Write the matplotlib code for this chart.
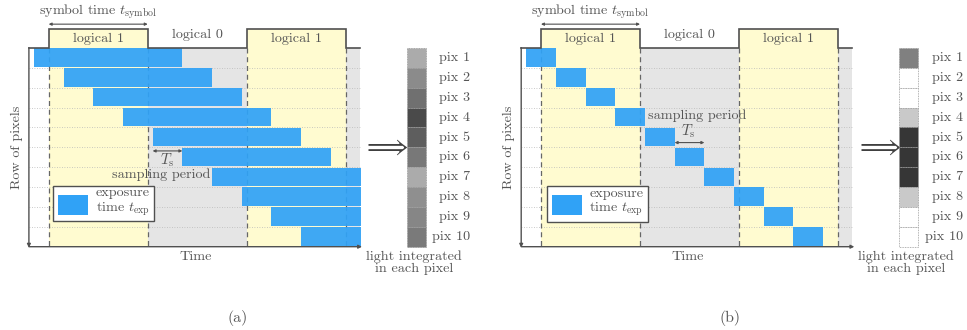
import matplotlib
matplotlib.use("Agg")
import matplotlib.pyplot as plt
from matplotlib.patches import Rectangle

plt.rcParams['font.family'] = 'serif'
plt.rcParams['font.serif'] = ['cmr10']
plt.rcParams['mathtext.fontset'] = 'cm'
plt.rcParams['axes.unicode_minus'] = False
plt.rcParams['axes.formatter.use_mathtext'] = True

# ---------------- data ----------------
symbol_labels = ['logical 1', 'logical 0', 'logical 1']
symbol_bits = [1, 0, 1]
pix_labels = ['pix 1', 'pix 2', 'pix 3', 'pix 4', 'pix 5',
              'pix 6', 'pix 7', 'pix 8', 'pix 9', 'pix 10']
# exposure start times of each pixel row (in symbol periods)
exposure_start = [-0.15, 0.15, 0.45, 0.75, 1.05, 1.35, 1.65, 1.95, 2.25, 2.55]
exposure_len_a = 1.5
exposure_len_b = 0.3
# light integrated in each pixel (gray level, 1 = white)
gray_a = [0.67, 0.545, 0.44, 0.29, 0.37, 0.47, 0.67, 0.56, 0.525, 0.48]
gray_b = [0.50, 1.00, 1.00, 0.79, 0.21, 0.21, 0.21, 0.79, 1.00, 1.00]
panel_tags = ['(a)', '(b)']

# ---------------- style ----------------
TXT = '#555555'
LINE = '#505050'
YELLOW = '#fffbd0'
GRAY = '#e5e5e5'
BLUE = '#30a2f6'
FS = 10.2

W, H = 967, 330
PXU = 99.0          # pixels per symbol period
ROW = 19.87         # pixels per pixel-row
TOP = 48.0          # y pixel of the baseline
T_END = 3.145
T_LEFT = -0.2

fig = plt.figure(figsize=(W / 100, H / 100), dpi=100)


def panel(left_px, right_px, origin_px, exp_len, gray, tag, variant):
    ax = fig.add_axes([left_px / W, 0, (right_px - left_px) / W, 1])
    ax.set_xlim((left_px - origin_px) / PXU, (right_px - origin_px) / PXU)
    ax.set_ylim((H - TOP) / ROW, (0 - TOP) / ROW)
    ax.axis('off')
    n = len(exposure_start)
    nsym = len(symbol_bits)

    # background regions
    for k, b in enumerate(symbol_bits):
        ax.add_patch(Rectangle((k, 0), 1, n, fc=YELLOW if b else GRAY, ec='none', zorder=0))
        if b:
            ax.add_patch(Rectangle((k, -0.956), 1, 0.956, fc=YELLOW, ec='none', zorder=0))
    ax.add_patch(Rectangle((nsym, 0), T_END - nsym, n, fc=GRAY, ec='none', zorder=0))

    # dotted row separators
    for r in range(1, n):
        ax.plot([T_LEFT, T_END], [r, r], color='#b8b8b8', lw=0.6, ls=(0, (1, 2)), zorder=1)
    # dashed symbol boundaries
    for k in range(nsym + 1):
        ax.plot([k, k], [0, n], color='#666666', lw=0.9, ls=(0, (4, 3)), zorder=1)

    # signal line
    xs = [T_LEFT, 0] + [v for k, b in enumerate(symbol_bits) for v in (k, k + 1)] + [nsym, T_END]
    ys = [0, 0] + [(-0.956 if b else 0) for b in symbol_bits for _ in (0, 1)] + [0, 0]
    ax.plot(xs, ys, color=LINE, lw=1.2, zorder=3, solid_joinstyle='miter')

    # exposure bars
    for i, s in enumerate(exposure_start):
        e = min(s + exp_len, T_END + 0.01)
        ax.add_patch(Rectangle((s, i + 0.02), e - s, 0.92, fc=BLUE, ec='none',
                               alpha=0.93, zorder=2))

    # axes arrows
    ax.annotate('', xy=(T_LEFT, n + 0.05), xytext=(T_LEFT, -0.02),
                arrowprops=dict(arrowstyle='-|>', color=LINE, lw=1.0,
                                mutation_scale=5, shrinkA=0, shrinkB=0), zorder=4)
    ax.annotate('', xy=(T_END + 0.02, n), xytext=(T_LEFT, n),
                arrowprops=dict(arrowstyle='-|>', color=LINE, lw=1.0,
                                mutation_scale=5, shrinkA=0, shrinkB=0), zorder=4)

    # texts above
    ax.annotate('', xy=(0, -1.2), xytext=(1, -1.2),
                arrowprops=dict(arrowstyle='<|-|>', color=LINE, lw=0.8,
                                mutation_scale=4, shrinkA=0, shrinkB=0))
    ax.text(0.5, -1.8, r'symbol time $t_{\mathrm{symbol}}$', ha='center', va='center',
            color=TXT, fontsize=FS)
    for k, (lab, b) in enumerate(zip(symbol_labels, symbol_bits)):
        ax.text(k + 0.5, -0.45 if b else -0.65, lab, ha='center', va='center',
                color=TXT, fontsize=FS, zorder=5)

    ax.text(-0.325, n / 2, 'Row of pixels', rotation=90, ha='center', va='center',
            color=TXT, fontsize=FS)
    ax.text(1.48, n + 0.5, 'Time', ha='center', va='center', color=TXT, fontsize=FS)

    # legend
    if variant == 'a':
        lx, ly = 0.043, 6.92
    else:
        lx, ly = 0.058, 6.94
    ax.add_patch(Rectangle((lx, ly), 1.02, 1.81, fc='white', ec=LINE, lw=1.0, zorder=6))
    ax.add_patch(Rectangle((lx + 0.051, ly + 0.47), 0.303, 1.0, fc=BLUE, ec='none', zorder=7))
    ax.text(lx + 0.43, ly + 0.38, 'exposure', ha='left', va='center', color=TXT,
            fontsize=FS, zorder=7)
    ax.text(lx + 0.43, ly + 1.2, r'time $t_{\mathrm{exp}}$', ha='left', va='center',
            color=TXT, fontsize=FS, zorder=7)

    # sampling period annotation
    if variant == 'a':
        ax.annotate('', xy=(exposure_start[4], 5.18), xytext=(exposure_start[5], 5.18),
                    arrowprops=dict(arrowstyle='<|-|>', color=LINE, lw=0.8,
                                    mutation_scale=4, shrinkA=0, shrinkB=0), zorder=5)
        ax.text(1.2, 5.66, r'$T_{\mathrm{s}}$', ha='center', va='center', color=TXT,
                fontsize=FS + 0.5, zorder=5)
        ax.text(1.63, 6.4, 'sampling period', ha='right', va='center', color=TXT,
                fontsize=FS, zorder=5)
    else:
        ax.annotate('', xy=(exposure_start[5], 4.76), xytext=(exposure_start[6], 4.76),
                    arrowprops=dict(arrowstyle='<|-|>', color=LINE, lw=0.8,
                                    mutation_scale=4, shrinkA=0, shrinkB=0), zorder=5)
        ax.text(1.49, 4.2, r'$T_{\mathrm{s}}$', ha='center', va='center', color=TXT,
                fontsize=FS + 0.5, zorder=5)
        ax.text(1.085, 3.42, 'sampling period', ha='left', va='center', color=TXT,
                fontsize=FS, zorder=5)

    # double arrow
    ax.text(3.405, n / 2 - 0.04, r'$\Longrightarrow$', ha='center', va='center',
            color='#404040', fontsize=19)

    # pixel column
    for i, g in enumerate(gray):
        ax.add_patch(Rectangle((3.615, i), 0.195, 1, fc=(g, g, g), ec='#999999',
                               lw=0.6, ls=(0, (1, 1)), zorder=3))
        ax.text(4.26, i + 0.5, pix_labels[i], ha='right', va='center', color=TXT,
                fontsize=FS)
    ax.text(3.69, n + 0.82, 'light integrated\nin each pixel', ha='center', va='center',
            color=TXT, fontsize=FS, linespacing=0.95)

    ax.text(1.91, 13.57, tag, ha='center', va='center', color=TXT, fontsize=FS + 1.3)
    return ax


panel(0, 485, 48.7, exposure_len_a, gray_a, panel_tags[0], 'a')
panel(485, 967, 541.0, exposure_len_b, gray_b, panel_tags[1], 'b')

fig.savefig('out.png', dpi=100)
